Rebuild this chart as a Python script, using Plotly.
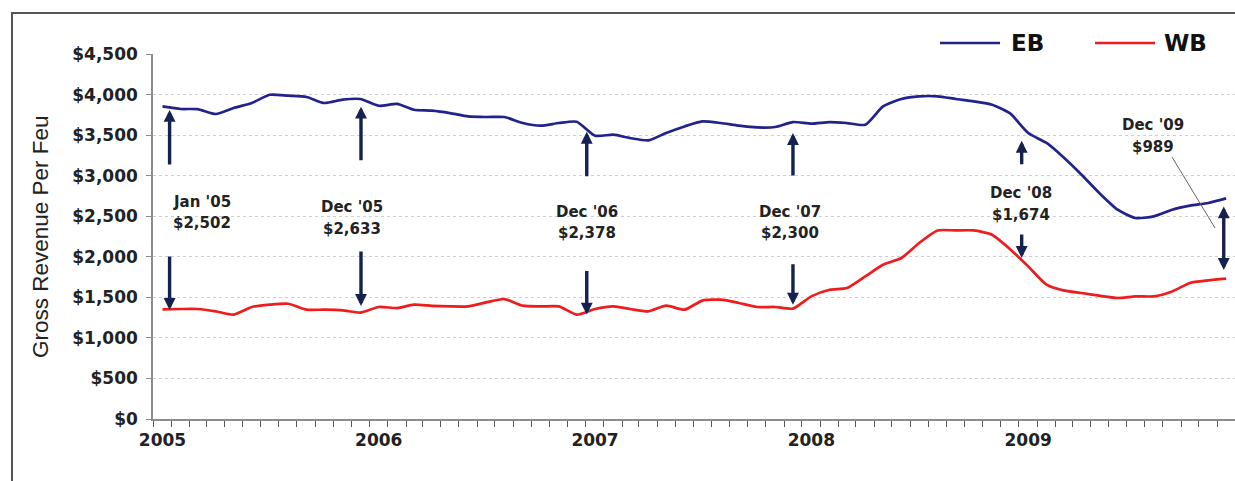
import pandas as pd
import plotly.graph_objects as go

# Monthly gross revenue per FEU, Jan 2005 - Dec 2009
months = pd.date_range("2005-01-01", "2009-12-01", freq="MS")

eb = [3854, 3822, 3820, 3760, 3834, 3896, 3998, 3986, 3970, 3896, 3937, 3945,
      3862, 3884, 3813, 3801, 3772, 3731, 3723, 3723, 3649, 3616, 3649, 3665,
      3493, 3505, 3464, 3435, 3526, 3607, 3669, 3649, 3616, 3595, 3600, 3661,
      3641, 3661, 3649, 3628, 3854, 3945, 3978, 3978, 3945, 3916, 3875, 3770,
      3526, 3403, 3230, 3012, 2786, 2580, 2478, 2498, 2580, 2630, 2663, 2720]

wb = [1352, 1356, 1356, 1327, 1286, 1381, 1409, 1421, 1348, 1348, 1340, 1312,
      1381, 1368, 1409, 1395, 1388, 1388, 1438, 1479, 1397, 1388, 1388, 1287,
      1356, 1388, 1356, 1327, 1397, 1348, 1460, 1471, 1430, 1381, 1381, 1361,
      1512, 1594, 1615, 1758, 1902, 1985, 2170, 2325, 2325, 2325, 2272, 2096,
      1882, 1656, 1586, 1553, 1520, 1492, 1512, 1512, 1573, 1677, 1709, 1731]

series_names = ["EB", "WB"]
y_ticks = list(range(0, 4501, 500))
y_tick_text = [f"${v:,}" for v in y_ticks]

# Months whose EB-WB gap is called out
callout_months = ["2005-01", "2005-12", "2006-12", "2007-12", "2008-12", "2009-12"]

EB_COLOR = "#22228c"
WB_COLOR = "#ee1c1c"
ARROW_COLOR = "#15214f"
TEXT_COLOR = "#222222"
BOLD_FONT = "DejaVu Sans"

# Plot box in pixels
W_FIG, H_FIG = 1235, 481
L, T, R, B = 153, 54, 0, 62
PW = W_FIG - L - R
PH = H_FIG - T - B


def px_x(px):
    return (px - L) / PW


def px_y(py):
    return (H_FIG - B - py) / PH


fig = go.Figure()
fig.add_trace(go.Scatter(x=months, y=eb, mode="lines", name=series_names[0],
                         line=dict(color=EB_COLOR, width=2.7, shape="spline",
                                   smoothing=0.6)))
fig.add_trace(go.Scatter(x=months, y=wb, mode="lines", name=series_names[1],
                         line=dict(color=WB_COLOR, width=2.7, shape="spline",
                                   smoothing=0.6)))

annotations = []
shapes = []

# Gap labels: month name + EB-WB difference
label_pos = [(202, 202, 223), (352, 207, 229), (587, 212, 233),
             (790, 212, 233), (1021, 193, 215), (1153, 125, 147)]
month_idx = {m.strftime("%Y-%m"): i for i, m in enumerate(months)}
for key, (lx, ly1, ly2) in zip(callout_months, label_pos):
    i = month_idx[key]
    gap = eb[i] - wb[i]
    name = months[i].strftime("%b '%y")
    for txt, ly in ((name, ly1), (f"${gap:,}", ly2)):
        annotations.append(dict(
            text=txt, xref="paper", yref="paper", x=px_x(lx), y=px_y(ly),
            xanchor="center", yanchor="middle", showarrow=False,
            font=dict(family=BOLD_FONT, size=15, color=TEXT_COLOR, weight="bold")))

# Arrows: up to EB line, down to WB line (date, tip value, shaft length px)
up_arrows = [("2005-01-13", 3810, 56), ("2005-12-02", 3850, 55),
             ("2006-12-18", 3540, 46), ("2007-12-01", 3525, 44),
             ("2008-12-21", 3430, 25)]
down_arrows = [("2005-01-13", 1344, 55), ("2005-12-02", 1393, 56),
               ("2006-12-18", 1287, 45), ("2007-12-01", 1409, 42),
               ("2008-12-21", 1985, 25)]
arrow_style = dict(showarrow=True, arrowhead=2, arrowsize=0.7, arrowwidth=3.4,
                   arrowcolor=ARROW_COLOR, text="", standoff=0, startstandoff=0)
for d, v, ln in up_arrows:
    annotations.append(dict(x=d, y=v, xref="x", yref="y", ax=0, ay=ln, **arrow_style))
for d, v, ln in down_arrows:
    annotations.append(dict(x=d, y=v, xref="x", yref="y", ax=0, ay=-ln, **arrow_style))
# Double-headed arrow for the last month
annotations.append(dict(x="2009-11-27", y=2621, xref="x", yref="y", ax=0, ay=65,
                        arrowside="end+start", **arrow_style))

# Leader line from the Dec '09 label
shapes.append(dict(type="line", xref="paper", yref="paper",
                   x0=px_x(1172), y0=px_y(157), x1=px_x(1215), y1=px_y(228),
                   line=dict(color="#666666", width=1)))

# Legend drawn as line samples with bold labels
legend_items = [(940, 1000, 1009, series_names[0], EB_COLOR),
                (1095, 1155, 1162, series_names[1], WB_COLOR)]
for x0, x1, tx, name, col in legend_items:
    shapes.append(dict(type="line", xref="paper", yref="paper",
                       x0=px_x(x0), x1=px_x(x1), y0=px_y(43), y1=px_y(43),
                       line=dict(color=col, width=2.7)))
    annotations.append(dict(text=name, xref="paper", yref="paper",
                            x=px_x(tx), y=px_y(43), xanchor="left", yanchor="middle",
                            showarrow=False,
                            font=dict(family=BOLD_FONT, size=23, color="#111111",
                                      weight="bold")))

# Y-axis title
annotations.append(dict(text="Gross Revenue Per Feu", xref="paper", yref="paper",
                        x=px_x(40), y=px_y(237), textangle=-90, showarrow=False,
                        xanchor="center", yanchor="middle",
                        font=dict(family="Liberation Sans, Arial", size=22.5,
                                  color=TEXT_COLOR)))

# Outer frame
shapes.append(dict(type="rect", xref="paper", yref="paper",
                   x0=px_x(12), x1=px_x(1260), y0=px_y(13), y1=px_y(500),
                   line=dict(color="#555555", width=2), fillcolor="rgba(0,0,0,0)",
                   layer="below"))

fig.update_layout(
    width=W_FIG, height=H_FIG,
    margin=dict(l=L, r=R, t=T, b=B, autoexpand=False),
    paper_bgcolor="white", plot_bgcolor="white",
    annotations=annotations, shapes=shapes,
    showlegend=False,
)

fig.update_xaxes(
    type="date", range=["2004-12-16", "2009-12-16"],
    tick0="2005-01-01", dtick="M12", tickformat="%Y", ticks="",
    tickfont=dict(family=BOLD_FONT, size=17, color=TEXT_COLOR, weight="bold"),
    showgrid=False, zeroline=False,
    showline=True, linecolor="#8c8c8c", linewidth=1.5,
    minor=dict(ticks="outside", tick0="2004-12-16", dtick="M1", ticklen=6,
               tickcolor="#555555", tickwidth=1, showgrid=False),
    ticklabelstandoff=5,
)

fig.update_yaxes(
    range=[0, 4500], tickmode="array", tickvals=y_ticks, ticktext=y_tick_text,
    tickfont=dict(family=BOLD_FONT, size=17, color=TEXT_COLOR, weight="bold"),
    ticks="outside", ticklen=5, tickcolor="#8c8c8c",
    showgrid=True, gridcolor="#cfcfcf", griddash="dot", gridwidth=1,
    zeroline=False, showline=True, linecolor="#8c8c8c", linewidth=1.5,
    ticklabelstandoff=5,
)

fig.write_html("out.html")
